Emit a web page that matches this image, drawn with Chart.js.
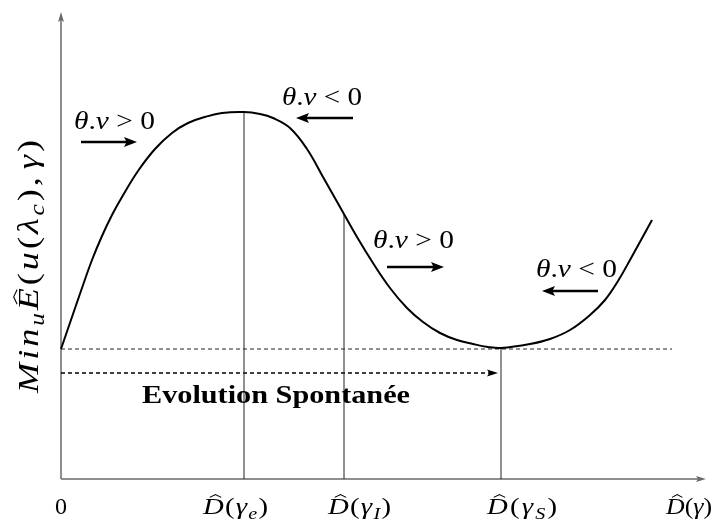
<!DOCTYPE html>
<html>
<head>
<meta charset="utf-8">
<script src="https://cdn.jsdelivr.net/npm/chart.js@4.4.0/dist/chart.umd.min.js"></script>
<style>
  html, body { margin: 0; padding: 0; background: #fff; }
  #wrap { width: 715px; height: 521px; }
</style>
</head>
<body>
<div id="wrap"><canvas id="chart" width="715" height="521"></canvas></div>
<script>
// energy curve samples (D(gamma) -> min E)
const curveX = [0, 11, 21, 31, 41, 51, 61, 77, 94, 111, 127, 144, 161, 183,
                199, 212, 229, 246, 262, 279, 296, 312, 329, 346, 362, 379, 396, 412, 427, 440,
                469, 489, 509, 529, 544, 557, 569, 591];
const curveY = [130, 162, 191, 219, 243, 264, 282, 308, 330, 346, 356, 362, 366, 367,
                365, 361, 351, 330, 302, 272, 242, 216, 191, 171, 157, 146, 139, 135, 132, 131,
                135, 140, 149, 164, 179, 198, 219, 259];

// marked points: gamma_e (max), gamma_I (inflexion), gamma_S (min)
const markSub = ['e', 'I', 'S'];
const markX = [183, 283, 440];
const markY = [367, 265, 131];

// starting level and spontaneous evolution arrow
const levelY = 130;
const levelEnd = 611;
const evolY = 106;
const evolEnd = 437;

// direction arrows for the sign of theta.nu
const signOp = ['>', '<', '>', '<'];
const signY = [337, 361, 212, 188];
const signFrom = [20, 292, 326, 537];
const signTo = [76, 235, 383, 481];

const axisMaxX = 645;
const axisMaxY = 467;

const SERIF = '"Liberation Serif", "Times New Roman", serif';

function runFont(r, size) {
  const s = size * (r.sub ? 0.7 : 1);
  return (r.i ? 'italic ' : '') + (r.b ? 'bold ' : '') + s.toFixed(1) + 'px ' + SERIF;
}

function drawHat(ctx, cx, top, size) {
  ctx.save();
  ctx.lineWidth = 1;
  ctx.strokeStyle = '#000';
  ctx.beginPath();
  ctx.moveTo(cx - size * 0.2, top - size * 0.04);
  ctx.lineTo(cx, top - size * 0.16);
  ctx.lineTo(cx + size * 0.2, top - size * 0.04);
  ctx.stroke();
  ctx.restore();
}

// draws text made of runs (italic / subscript / bold) over a given width:
// a horizontal stretch first, then the rest as spacing between glyphs
function drawRuns(ctx, runs, x, y, size, width) {
  const glyphs = [];
  runs.forEach(r => {
    ctx.font = runFont(r, size);
    const chars = Array.from(r.t);
    chars.forEach((c, k) => {
      glyphs.push({
        c, r,
        w: ctx.measureText(c).width,
        padL: k === 0 ? (r.padL || 0) : 0,
        padR: k === chars.length - 1 ? (r.pad || 0) - (r.padL || 0) : 0
      });
    });
  });
  const total = glyphs.reduce((s, g) => s + g.w + g.padL + g.padR, 0);
  let sx = 1, extra = 0;
  if (width) {
    sx = Math.min(width / total, 1.25);
    if (glyphs.length > 1) extra = (width / sx - total) / (glyphs.length - 1);
  }
  ctx.save();
  ctx.translate(x, y);
  ctx.scale(sx, 1);
  ctx.fillStyle = '#000';
  ctx.textBaseline = 'alphabetic';
  let cx = 0;
  glyphs.forEach(g => {
    ctx.font = runFont(g.r, size);
    cx += g.padL;
    ctx.fillText(g.c, cx, g.r.sub ? size * 0.22 : 0);
    if (g.r.hat) drawHat(ctx, cx + g.w * 0.6, -size * 0.68, size);
    cx += g.w + g.padR + extra;
  });
  ctx.restore();
}

function arrowHead(ctx, x, y, dir, len, half) {
  ctx.beginPath();
  ctx.moveTo(x, y);
  ctx.lineTo(x - dir * len, y - half);
  ctx.lineTo(x - dir * len * 0.8, y);
  ctx.lineTo(x - dir * len, y + half);
  ctx.closePath();
  ctx.fill();
}

function signRuns(op, size) {
  const gap = size * 0.25;
  return [
    { t: 'θ', i: 1 }, { t: '.' }, { t: 'ν', i: 1 },
    { t: op, padL: gap, pad: gap * 2 }, { t: '0' }
  ];
}

function dRuns(sub) {
  const runs = [{ t: 'D', i: 1, hat: 1 }, { t: '(' }, { t: 'γ', i: 1 }];
  if (sub) runs.push({ t: sub, i: 1, sub: 1 });
  runs.push({ t: ')' });
  return runs;
}

// text placement (left edge / baseline / width, in canvas pixels)
const layout = {
  signLabels: [[74, 129, 81], [282, 105, 80], [373, 248, 81], [536, 277, 81]],
  tickLabels: [[203, 65], [328, 63], [487, 70]],
  axisLabel: [666, 46],
  tickBase: 514
};

const overlay = {
  id: 'overlay',
  beforeDatasetsDraw(chart) {
    const { ctx, scales: { x, y } } = chart;
    const x0 = x.getPixelForValue(0), y0 = y.getPixelForValue(0);
    const x1 = x.getPixelForValue(axisMaxX), y1 = y.getPixelForValue(axisMaxY);
    ctx.save();
    ctx.strokeStyle = '#6a6a6a';
    ctx.fillStyle = '#6a6a6a';
    ctx.lineWidth = 1.5;
    ctx.beginPath();
    ctx.moveTo(x0, y0); ctx.lineTo(x1 - 4, y0);
    ctx.moveTo(x0, y0); ctx.lineTo(x0, y1 + 4);
    ctx.stroke();
    arrowHead(ctx, x1, y0, 1, 10, 3);
    ctx.beginPath();
    ctx.moveTo(x0, y1);
    ctx.lineTo(x0 - 3, y1 + 10);
    ctx.lineTo(x0, y1 + 8);
    ctx.lineTo(x0 + 3, y1 + 10);
    ctx.closePath();
    ctx.fill();
    ctx.restore();
  },
  afterDatasetsDraw(chart) {
    const { ctx, scales: { x, y } } = chart;
    ctx.save();
    ctx.fillStyle = '#000';
    signOp.forEach((op, i) => {
      const dir = signTo[i] > signFrom[i] ? 1 : -1;
      arrowHead(ctx, x.getPixelForValue(signTo[i]), y.getPixelForValue(signY[i]), dir, 13, 5);
      const [lx, ly, w] = layout.signLabels[i];
      drawRuns(ctx, signRuns(op, 25), lx, ly, 25, w);
    });
    arrowHead(ctx, x.getPixelForValue(evolEnd), y.getPixelForValue(evolY), 1, 11, 3.5);

    drawRuns(ctx, [{ t: 'Evolution Spontanée', b: 1 }], 142, 403, 25, 268);

    // abscissa labels
    drawRuns(ctx, [{ t: '0' }], x.getPixelForValue(0) - 6, layout.tickBase, 23, 12);
    markSub.forEach((s, i) => {
      const [lx, w] = layout.tickLabels[i];
      drawRuns(ctx, dRuns(s), lx, layout.tickBase, 23, w);
    });
    drawRuns(ctx, dRuns(''), layout.axisLabel[0], layout.tickBase, 23, layout.axisLabel[1]);

    // ordinate label
    ctx.save();
    ctx.translate(38, 393);
    ctx.rotate(-Math.PI / 2);
    drawRuns(ctx, [
      { t: 'Min', i: 1 }, { t: 'u', i: 1, sub: 1 }, { t: 'E', i: 1, hat: 1 },
      { t: '(' }, { t: 'u', i: 1 }, { t: '(' }, { t: 'λ', i: 1 }, { t: 'c', i: 1, sub: 1 },
      { t: '),', pad: 4 }, { t: 'γ', i: 1 }, { t: ')' }
    ], 0, 0, 29, 253);
    ctx.restore();
    ctx.restore();
  }
};

function seg(points, extra) {
  return Object.assign({
    data: points, showLine: true, pointRadius: 0, pointHoverRadius: 0,
    borderColor: '#000', borderWidth: 1, fill: false, clip: false
  }, extra);
}

const datasets = [];
datasets.push(seg(curveX.map((v, i) => ({ x: v, y: curveY[i] })), {
  borderWidth: 2, tension: 0.4
}));
markX.forEach((v, i) => {
  datasets.push(seg([{ x: v, y: 0 }, { x: v, y: markY[i] }], { borderColor: '#222' }));
});
datasets.push(seg([{ x: 0, y: levelY }, { x: levelEnd, y: levelY }], { borderDash: [4, 3], borderColor: '#222' }));
datasets.push(seg([{ x: 0, y: evolY }, { x: evolEnd - 6, y: evolY }], { borderDash: [4, 3], borderWidth: 1.6 }));
signOp.forEach((op, i) => {
  const dir = signTo[i] > signFrom[i] ? 1 : -1;
  datasets.push(seg([{ x: signFrom[i], y: signY[i] }, { x: signTo[i] - dir * 8, y: signY[i] }], { borderWidth: 2.6 }));
});

new Chart(document.getElementById('chart').getContext('2d'), {
  type: 'scatter',
  data: { datasets },
  options: {
    responsive: false,
    animation: false,
    events: [],
    layout: { padding: { left: 61, right: 9, top: 12, bottom: 42 } },
    plugins: { legend: { display: false }, tooltip: { enabled: false } },
    scales: {
      x: { type: 'linear', min: 0, max: axisMaxX, display: false },
      y: { type: 'linear', min: 0, max: axisMaxY, display: false }
    }
  },
  plugins: [overlay]
});
</script>
</body>
</html>
